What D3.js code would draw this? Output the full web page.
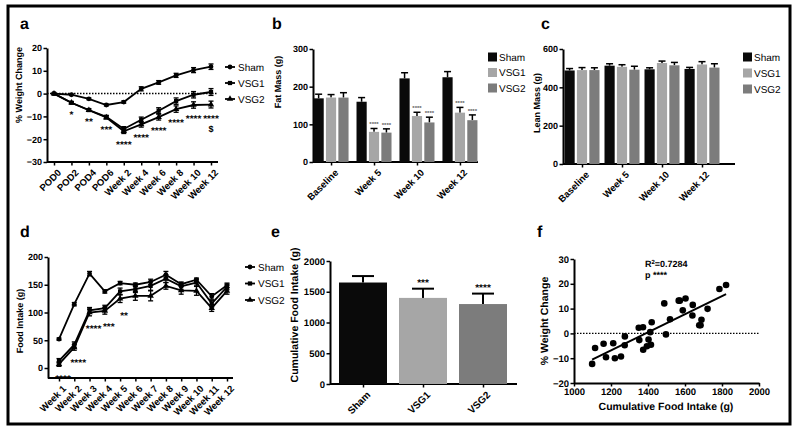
<!DOCTYPE html>
<html><head><meta charset="utf-8">
<script src="https://cdn.jsdelivr.net/npm/d3@7"></script>
<style>
body{margin:0;background:#fff;}
svg{display:block;}
</style></head><body>
<svg id="chart" width="800" height="431"></svg>
<script>
// ---------------- DATA ----------------
const seriesNames = ["Sham", "VSG1", "VSG2"];

// Panel a: % weight change
const timepointsA = ["POD0","POD2","POD4","POD6","Week 2","Week 4","Week 6","Week 8","Week 10","Week 12"];
const weightSham = [0, -0.5, -2.3, -5.0, -3.7, 2.1, 4.9, 8.0, 10.3, 11.8];
const weightVSG1 = [0, -4.0, -7.2, -10.2, -15.5, -11.5, -7.5, -3.3, -0.5, 0.7];
const weightVSG2 = [0, -4.0, -7.3, -10.5, -16.5, -13.5, -10.3, -6.8, -5.0, -4.8];
const weightErrSham = [0.2, 0.3, 0.4, 0.4, 0.5, 0.9, 0.8, 0.9, 1.1, 1.2];
const weightErrVSG1 = [0.2, 0.4, 0.5, 0.6, 1.0, 1.2, 1.3, 1.4, 1.4, 1.5];
const weightErrVSG2 = [0.2, 0.4, 0.5, 0.6, 1.0, 1.2, 1.3, 1.4, 1.4, 1.5];
const weightSig = ["", "*", "**", "***", "****", "****", "****", "****", "****", "****"];
const weightSig2 = ["", "", "", "", "", "", "", "", "", "$"];

// Panel b: fat mass
const massGroups = ["Baseline", "Week 5", "Week 10", "Week 12"];
const fatSham = [169, 160, 222, 225];
const fatVSG1 = [171, 80, 122, 131];
const fatVSG2 = [171, 78, 105, 111];
const fatErrSham = [11, 11, 15, 15];
const fatErrVSG1 = [8, 9, 10, 14];
const fatErrVSG2 = [13, 10, 14, 14];
const fatSigVSG1 = ["", "****", "****", "****"];
const fatSigVSG2 = ["", "****", "****", "****"];

// Panel c: lean mass
const leanSham = [488, 513, 494, 496];
const leanVSG1 = [490, 507, 527, 519];
const leanVSG2 = [490, 492, 515, 503];
const leanErrSham = [10, 10, 8, 8];
const leanErrVSG1 = [13, 11, 10, 15];
const leanErrVSG2 = [12, 18, 15, 20];

// Panel d: weekly food intake
const weeksD = ["Week 1","Week 2","Week 3","Week 4","Week 5","Week 6","Week 7","Week 8","Week 9","Week 10","Week 11","Week 12"];
const intakeSham = [52, 115, 170, 138, 153, 150, 155, 168, 151, 159, 129, 149];
const intakeVSG1 = [13, 42, 104, 108, 138, 142, 148, 161, 147, 154, 116, 146];
const intakeVSG2 = [7, 37, 100, 103, 125, 130, 130, 148, 140, 139, 108, 139];
const intakeErrSham = [2, 3, 4, 3, 3, 3, 5, 6, 4, 3, 5, 4];
const intakeErrVSG1 = [4, 5, 5, 5, 6, 6, 8, 7, 6, 6, 6, 5];
const intakeErrVSG2 = [4, 5, 6, 6, 7, 8, 9, 6, 7, 8, 6, 6];
const intakeSig = ["****", "****", "****", "***", "**", "", "", "", "", "", "", ""];

// Panel e: cumulative food intake
const cumIntake = [1650, 1400, 1300];
const cumErr = [105, 150, 170];
const cumSig = ["", "***", "****"];

// Panel f: scatter
const scatterIntake = [1098,1114,1160,1173,1212,1221,1254,1275,1274,1350,1353,1373,1374,1394,1403,1412,1416,1420,1488,1497,1519,1566,1572,1588,1603,1642,1640,1677,1684,1689,1722,1786,1822];
const scatterWeight = [-12.3,-5.9,-4.2,-9.6,-4.0,-10.0,-9.3,-1.2,-4.8,2.3,-2.7,2.5,-6.6,-5.2,-2.5,0.5,-4.6,4.5,12.1,-0.4,5.7,13.2,13.2,9.3,14.1,11.5,7.2,3.3,3.3,5.5,9.9,17.9,19.5];
const rSquaredText = "0.7284";

// ---------------- DRAWING ----------------
const FONT = '"Liberation Sans", Arial, Helvetica, sans-serif';
const svg = d3.select("#chart").attr("font-family", FONT).attr("text-rendering", "geometricPrecision");
const barColors = {Sham: "#0a0a0a", VSG1: "#a6a6a6", VSG2: "#7c7c7c"};
const intFmt = d3.format("d");

svg.append("rect").attr("x", 8).attr("y", 6).attr("width", 782).attr("height", 418)
  .attr("fill", "none").attr("stroke", "#000").attr("stroke-width", 3);

function panelLabel(t, x, y) {
  svg.append("text").attr("x", x).attr("y", y).attr("font-size", 16).attr("font-weight", "bold").text(t);
}
function styleAxis(g, fs) {
  g.attr("font-family", FONT);
  g.selectAll(".tick text").attr("font-size", fs).attr("font-weight", "bold").attr("fill", "#000");
  g.selectAll(".tick line").attr("stroke-width", 1.5);
}
function drawYAxis(scale, x, ticks, fs) {
  const g = svg.append("g").attr("transform", `translate(${x},0)`)
    .call(d3.axisLeft(scale).tickValues(ticks).tickFormat(intFmt).tickSize(3.5).tickSizeOuter(0).tickPadding(1.5));
  g.select(".domain").attr("stroke-width", 2);
  styleAxis(g, fs);
  return g;
}
function drawXAxisCat(scale, y, x0, x1, fs) {
  const g = svg.append("g").attr("transform", `translate(0,${y})`)
    .call(d3.axisBottom(scale).tickSize(3.5).tickSizeOuter(0));
  g.select(".domain").remove();
  g.append("line").attr("x1", x0).attr("x2", x1).attr("stroke", "#000").attr("stroke-width", 2);
  styleAxis(g, fs);
  g.selectAll(".tick text").attr("x", 0).attr("y", 0).attr("dy", "0.35em").attr("text-anchor", "end")
    .attr("transform", "translate(5,9) rotate(-45)");
  return g;
}
function yTitle(text, x, y, fs) {
  svg.append("text").attr("transform", `translate(${x},${y}) rotate(-90)`).attr("text-anchor", "middle")
    .attr("font-size", fs).attr("font-weight", "bold").text(text);
}
function starText(x, y, t, fs, fill) {
  svg.append("text").attr("x", x).attr("y", y).attr("text-anchor", "middle")
    .attr("font-size", fs).attr("font-weight", "bold").attr("fill", fill || "#000").text(t);
}

// line chart helper
function lineChart(cats, xs, ys, series, symSize) {
  const line = d3.line().x((d, i) => xs(cats[i])).y(d => ys(d));
  series.forEach(s => {
    const g = svg.append("g");
    g.append("path").attr("d", line(s.vals)).attr("fill", "none").attr("stroke", "#000").attr("stroke-width", 1.8);
    s.vals.forEach((v, i) => {
      const x = xs(cats[i]), e = s.errs[i];
      g.append("line").attr("x1", x).attr("x2", x).attr("y1", ys(v - e)).attr("y2", ys(v + e)).attr("stroke", "#000").attr("stroke-width", 1.3);
      [v - e, v + e].forEach(w => g.append("line").attr("x1", x - 2.5).attr("x2", x + 2.5).attr("y1", ys(w)).attr("y2", ys(w)).attr("stroke", "#000").attr("stroke-width", 1.3));
      g.append("path").attr("d", d3.symbol().type(s.sym).size(symSize)()).attr("transform", `translate(${x},${ys(v)})`).attr("fill", "#000");
    });
  });
}
function lineLegend(series, x, ys0, dy, symSize) {
  series.forEach((s, i) => {
    const y = ys0 + i * dy;
    svg.append("line").attr("x1", x).attr("x2", x + 10).attr("y1", y).attr("y2", y).attr("stroke", "#000").attr("stroke-width", 1.8);
    svg.append("path").attr("d", d3.symbol().type(s.sym).size(symSize)()).attr("transform", `translate(${x + 5},${y})`);
    svg.append("text").attr("x", x + 13).attr("y", y).attr("dy", "0.35em").attr("font-size", 10).text(s.name);
  });
}
function barLegend(x, y0, dy) {
  seriesNames.forEach((n, i) => {
    const y = y0 + i * dy;
    svg.append("rect").attr("x", x).attr("y", y - 4.5).attr("width", 9).attr("height", 9).attr("fill", barColors[n]);
    svg.append("text").attr("x", x + 11).attr("y", y).attr("dy", "0.35em").attr("font-size", 10).text(n);
  });
}
function groupedBars(xg, ys, vals, errs, sigs, sigSize) {
  const xi = d3.scaleBand().domain(seriesNames).range([-17.5, 17.5]).paddingInner(0.18);
  const bw = xi.bandwidth();
  seriesNames.forEach((n, k) => {
    massGroups.forEach((gname, i) => {
      const v = vals[k][i], e = errs[k][i];
      const x = xg(gname) + xi(n);
      const cx = x + bw / 2;
      svg.append("line").attr("x1", cx).attr("x2", cx).attr("y1", ys(v)).attr("y2", ys(v + e)).attr("stroke", "#000").attr("stroke-width", 1.5);
      svg.append("line").attr("x1", cx - 3.5).attr("x2", cx + 3.5).attr("y1", ys(v + e)).attr("y2", ys(v + e)).attr("stroke", "#000").attr("stroke-width", 1.5);
      svg.append("rect").attr("x", x).attr("y", ys(v)).attr("width", bw).attr("height", ys(0) - ys(v)).attr("fill", barColors[n]);
      if (sigs && sigs[k] && sigs[k][i]) starText(cx, ys(v + e) - 2, sigs[k][i], sigSize, "#555");
    });
  });
}

// ===== Panel a =====
panelLabel("a", 20, 29);
const ya = d3.scaleLinear().domain([-30, 20]).range([162, 48]);
const xa = d3.scalePoint().domain(timepointsA).range([54, 211]);
drawYAxis(ya, 47, [-30, -20, -10, 0, 10, 20], 9);
drawXAxisCat(xa, 162, 47, 218, 9.5);
yTitle("% Weight Change", 22, 85, 9);
svg.append("line").attr("x1", 47).attr("x2", 218).attr("y1", ya(0)).attr("y2", ya(0))
  .attr("stroke", "#000").attr("stroke-width", 1.5).attr("stroke-dasharray", "1.5,1.5");
const seriesA = [
  {name: "Sham", vals: weightSham, errs: weightErrSham, sym: d3.symbolCircle},
  {name: "VSG1", vals: weightVSG1, errs: weightErrVSG1, sym: d3.symbolSquare},
  {name: "VSG2", vals: weightVSG2, errs: weightErrVSG2, sym: d3.symbolTriangle}
];
lineChart(timepointsA, xa, ya, seriesA, 18);
lineLegend(seriesA, 225, 67, 16, 18);
timepointsA.forEach((t, i) => {
  const base = ya(weightVSG2[i] - weightErrVSG2[i]) + 14;
  if (weightSig[i]) starText(xa(t), base, weightSig[i], 10);
  if (weightSig2[i]) starText(xa(t), base + 10, weightSig2[i], 9);
});

// ===== Panel b =====
panelLabel("b", 272, 29);
const yb = d3.scaleLinear().domain([0, 300]).range([162, 49]);
const xb = d3.scalePoint().domain(massGroups).range([313, 478]).padding(0.42);
drawYAxis(yb, 313, [0, 100, 200, 300], 9);
drawXAxisCat(xb, 162, 313, 478, 9.5);
yTitle("Fat Mass (g)", 281, 82, 9);
groupedBars(xb, yb, [fatSham, fatVSG1, fatVSG2], [fatErrSham, fatErrVSG1, fatErrVSG2], [null, fatSigVSG1, fatSigVSG2], 6);
barLegend(488, 57, 15.5);

// ===== Panel c =====
panelLabel("c", 541, 29);
const yc = d3.scaleLinear().domain([0, 600]).range([164, 49]);
const xc = d3.scalePoint().domain(massGroups).range([582, 702]);
drawYAxis(yc, 563, [0, 200, 400, 600], 9);
drawXAxisCat(xc, 164, 563, 735, 9.5);
yTitle("Lean Mass (g)", 540, 103, 9);
groupedBars(xc, yc, [leanSham, leanVSG1, leanVSG2], [leanErrSham, leanErrVSG1, leanErrVSG2], null, 5);
barLegend(743, 57, 16);

// ===== Panel d =====
panelLabel("d", 20, 237);
const yd = d3.scaleLinear().domain([-18, 200]).range([378, 257]);
const xd = d3.scalePoint().domain(weeksD).range([59, 227]);
drawYAxis(yd, 48, [0, 50, 100, 150, 200], 9);
drawXAxisCat(xd, 378, 48, 233, 9.5);
yTitle("Food Intake (g)", 23, 321, 9);
const seriesD = [
  {name: "Sham", vals: intakeSham, errs: intakeErrSham, sym: d3.symbolCircle},
  {name: "VSG1", vals: intakeVSG1, errs: intakeErrVSG1, sym: d3.symbolSquare},
  {name: "VSG2", vals: intakeVSG2, errs: intakeErrVSG2, sym: d3.symbolTriangle}
];
lineChart(weeksD, xd, yd, seriesD, 18);
lineLegend(seriesD, 245, 267, 16.5, 18);
weeksD.forEach((w, i) => {
  if (intakeSig[i]) starText(xd(w) + 4, yd(intakeVSG2[i] - intakeErrVSG2[i]) + 16, intakeSig[i], 10);
});

// ===== Panel e =====
panelLabel("e", 271, 237);
const ye = d3.scaleLinear().domain([0, 2000]).range([384, 261]);
const xe = d3.scaleBand().domain(seriesNames).range([333, 513]).paddingInner(0.2).paddingOuter(0.1);
drawYAxis(ye, 330, [0, 500, 1000, 1500, 2000], 9.5);
drawXAxisCat(d3.scalePoint().domain(seriesNames).range([xe("Sham") + xe.bandwidth() / 2, xe("VSG2") + xe.bandwidth() / 2]), 384, 330, 517, 10);
yTitle("Cumulative Food Intake (g)", 298, 315, 10.5);
seriesNames.forEach((n, i) => {
  const x = xe(n), bw = xe.bandwidth(), cx = x + bw / 2;
  const v = cumIntake[i], e = cumErr[i];
  svg.append("line").attr("x1", cx).attr("x2", cx).attr("y1", ye(v)).attr("y2", ye(v + e)).attr("stroke", "#000").attr("stroke-width", 2);
  svg.append("line").attr("x1", cx - 11).attr("x2", cx + 11).attr("y1", ye(v + e)).attr("y2", ye(v + e)).attr("stroke", "#000").attr("stroke-width", 2);
  svg.append("rect").attr("x", x).attr("y", ye(v)).attr("width", bw).attr("height", ye(0) - ye(v)).attr("fill", barColors[n]);
  if (cumSig[i]) starText(cx, ye(v + e) - 3, cumSig[i], 10);
});

// ===== Panel f =====
panelLabel("f", 537, 237);
const xf = d3.scaleLinear().domain([1000, 2000]).range([574, 759]);
const yf = d3.scaleLinear().domain([-20, 30]).range([383, 259]);
drawYAxis(yf, 574, [-20, -10, 0, 10, 20, 30], 9.5);
const gxf = svg.append("g").attr("transform", "translate(0,383)")
  .call(d3.axisBottom(xf).tickValues([1000, 1200, 1400, 1600, 1800, 2000]).tickFormat(intFmt).tickSize(3.5).tickSizeOuter(0).tickPadding(2));
gxf.select(".domain").attr("stroke-width", 2);
styleAxis(gxf, 9.5);
yTitle("% Weight Change", 548, 321, 10.5);
svg.append("text").attr("x", 666).attr("y", 410).attr("text-anchor", "middle").attr("font-size", 10.5)
  .attr("font-weight", "bold").text("Cumulative Food Intake (g)");
svg.append("line").attr("x1", 574).attr("x2", 759).attr("y1", yf(0)).attr("y2", yf(0))
  .attr("stroke", "#000").attr("stroke-width", 1.2).attr("stroke-dasharray", "1.5,1.5");
// regression
const n = scatterIntake.length;
const mx = d3.mean(scatterIntake), my = d3.mean(scatterWeight);
let sxy = 0, sxx = 0;
for (let i = 0; i < n; i++) { sxy += (scatterIntake[i] - mx) * (scatterWeight[i] - my); sxx += (scatterIntake[i] - mx) ** 2; }
const slope = sxy / sxx, icpt = my - slope * mx;
const xmin = d3.min(scatterIntake), xmax = d3.max(scatterIntake);
svg.append("line").attr("x1", xf(xmin)).attr("x2", xf(xmax)).attr("y1", yf(icpt + slope * xmin)).attr("y2", yf(icpt + slope * xmax))
  .attr("stroke", "#000").attr("stroke-width", 2);
svg.append("g").selectAll("circle").data(scatterIntake).join("circle")
  .attr("cx", d => xf(d)).attr("cy", (d, i) => yf(scatterWeight[i])).attr("r", 3.3).attr("fill", "#000");
const rt = svg.append("text").attr("x", 645).attr("y", 267).attr("font-size", 9).attr("font-weight", "bold");
rt.append("tspan").text("R");
rt.append("tspan").attr("dy", -3.5).attr("font-size", 6).text("2");
rt.append("tspan").attr("dy", 3.5).text("=" + rSquaredText);
svg.append("text").attr("x", 645).attr("y", 278).attr("font-size", 9).attr("font-weight", "bold").text("p ****");
</script>
</body></html>
